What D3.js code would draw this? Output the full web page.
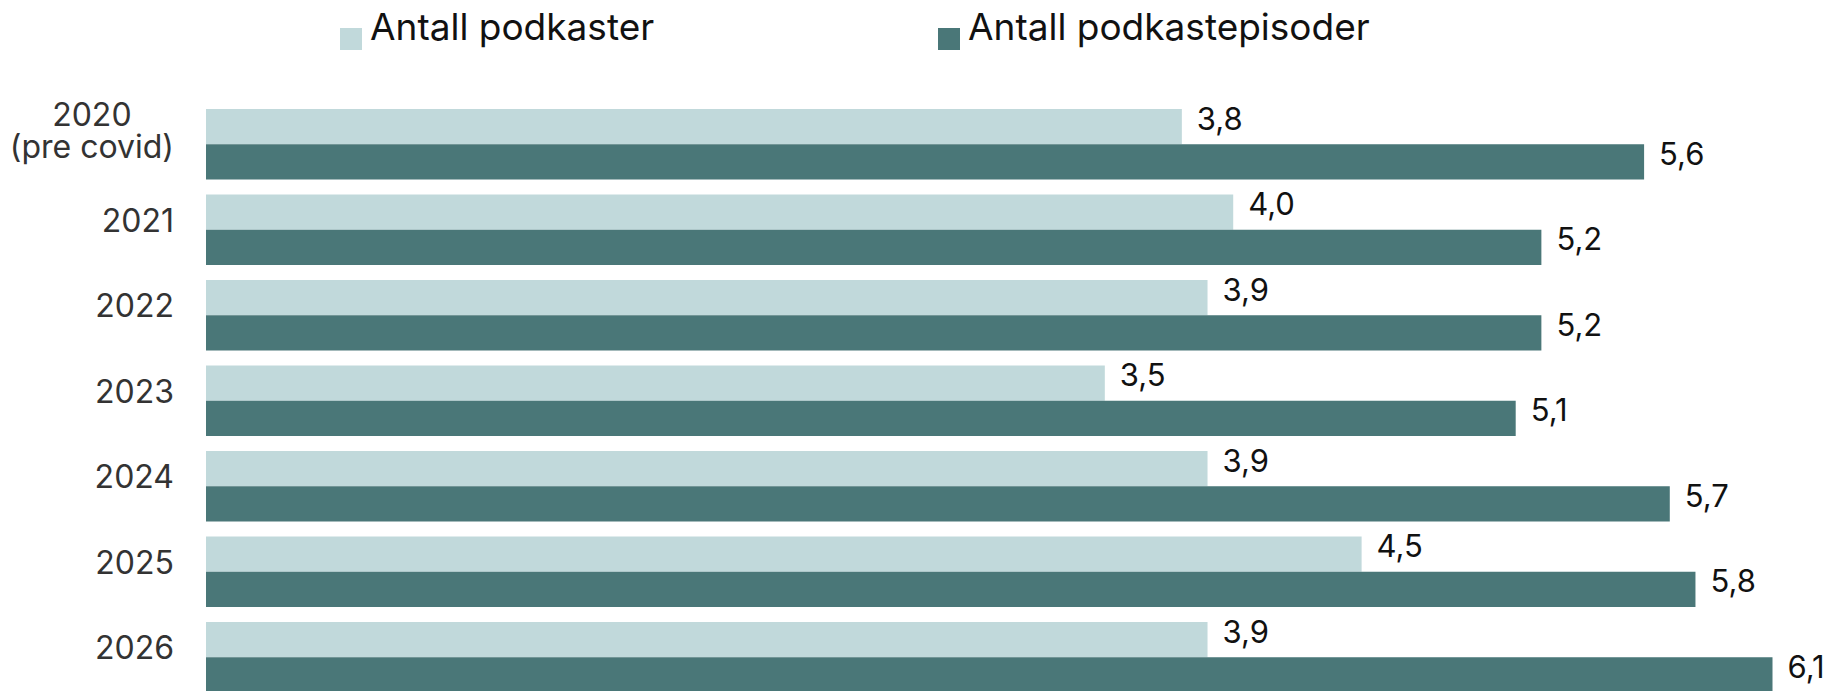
<!DOCTYPE html>
<html>
<head>
<meta charset="utf-8">
<script src="https://cdn.jsdelivr.net/npm/d3@7"></script>
<style>
  html, body { margin: 0; padding: 0; background: #fff; }
  svg { display: block; }
  text { font-family: Inter, "Noto Sans", sans-serif; }
</style>
</head>
<body>
<svg id="chart" width="1835" height="691"></svg>
<script>
// Categories (each entry is the list of lines in its label)
const categories = ["2020", "2021", "2022", "2023", "2024", "2025", "2026"];
const categoryLines = [["2020", "(pre covid)"], ["2021"], ["2022"], ["2023"], ["2024"], ["2025"], ["2026"]];

// Series
const seriesNames = ["Antall podkaster", "Antall podkastepisoder"];
const podkaster = [3.8, 4.0, 3.9, 3.5, 3.9, 4.5, 3.9];
const episoder  = [5.6, 5.2, 5.2, 5.1, 5.7, 5.8, 6.1];
const seriesColors = ["#c1d9db", "#4a7778"];

const rows = categories.map((c, i) => ({
  cat: c,
  lines: categoryLines[i],
  values: [
    { key: seriesNames[0], value: podkaster[i] },
    { key: seriesNames[1], value: episoder[i] }
  ]
}));

const svg = d3.select("#chart");
const fmt = v => d3.format(".1f")(v).replace(".", ",");

// Scales
const x = d3.scaleLinear().domain([0, 6.1]).range([206, 1772.5]);
const y = d3.scaleBand().domain(categories).range([109, 692.5])
  .paddingInner(15 / 85.5).paddingOuter(0);
const ySub = d3.scaleBand().domain(seriesNames).range([0, y.bandwidth()]);
const color = d3.scaleOrdinal().domain(seriesNames).range(seriesColors);

// Bars
const groups = svg.append("g").selectAll("g")
  .data(rows).join("g")
  .attr("transform", d => `translate(0,${y(d.cat)})`);

groups.selectAll("rect")
  .data(d => d.values).join("rect")
  .attr("x", x(0))
  .attr("y", d => ySub(d.key))
  .attr("width", d => x(d.value) - x(0))
  .attr("height", ySub.bandwidth())
  .attr("fill", d => color(d.key));

// Value labels
groups.selectAll("text.value")
  .data(d => d.values).join("text")
  .attr("class", "value")
  .attr("x", d => x(d.value) + 15)
  .attr("y", d => ySub(d.key) + ySub.bandwidth() / 2 + 3)
  .attr("font-size", 31)
  .attr("fill", "#111")
  .text(d => fmt(d.value));

// Category labels, right edge at 174, multi-line labels centred on their widest line
const catRight = 174;
const lineGap = 32;
groups.each(function(d) {
  const g = d3.select(this);
  const mid = y.bandwidth() / 2;
  const n = d.lines.length;
  const t = g.append("text")
    .attr("font-size", 32)
    .attr("fill", "#333");
  const spans = d.lines.map((ln, k) => t.append("tspan")
    .attr("y", mid + 2 + (k - (n - 1)) * lineGap + (n > 1 ? 11.5 : 0))
    .text(ln));
  if (n === 1) {
    t.attr("text-anchor", "end");
    spans.forEach(s => s.attr("x", catRight));
  } else {
    const w = d3.max(spans, s => s.node().getComputedTextLength());
    t.attr("text-anchor", "middle");
    spans.forEach(s => s.attr("x", catRight - w / 2));
  }
});

// Legend
const legendX = [340, 938];
const legend = svg.append("g").selectAll("g")
  .data(seriesNames).join("g")
  .attr("transform", (d, i) => `translate(${legendX[i]},0)`);
legend.append("rect")
  .attr("x", 0).attr("y", 28).attr("width", 22).attr("height", 22)
  .attr("fill", d => color(d));
legend.append("text")
  .attr("x", 30).attr("y", 39.5)
  .attr("font-size", 37)
  .attr("fill", "#111")
  .text(d => d);
</script>
</body>
</html>
